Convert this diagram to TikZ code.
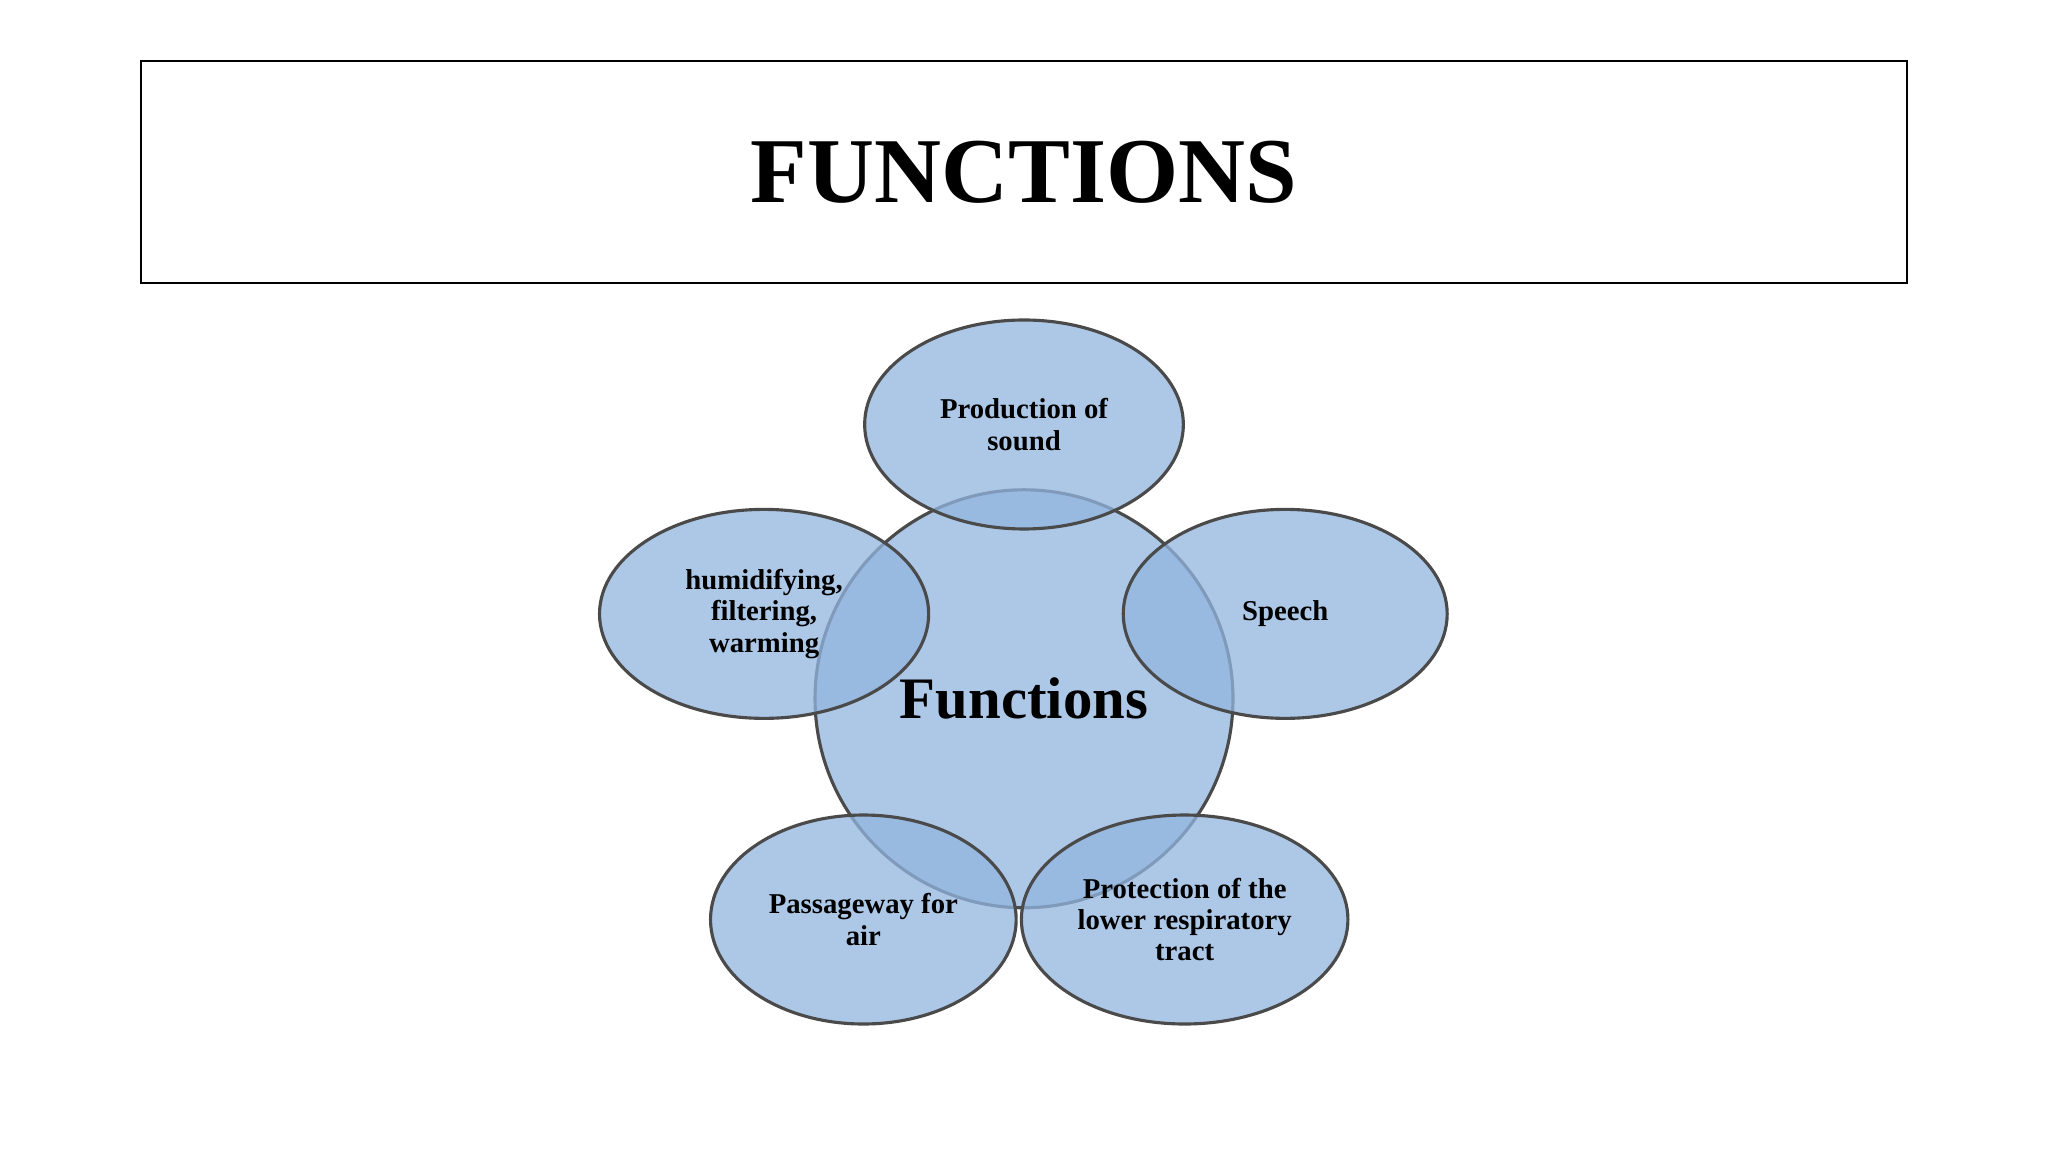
\documentclass[tikz,border=0pt]{standalone}
\usepackage{fontspec}
\setmainfont{Liberation Serif}
\usetikzlibrary{shapes.geometric}
\definecolor{bub}{HTML}{92B6E0}
\definecolor{edge}{HTML}{4A4A4A}
\tikzset{
  bubble/.style={ellipse,draw=edge,line width=1.2pt,fill=bub,fill opacity=0.75,inner sep=0pt},
  lbl/.style={align=center,font=\bfseries\fontsize{11}{12}\selectfont,text=black}
}
\begin{document}
\begin{tikzpicture}[x=0.5pt,y=-0.5pt]
\useasboundingbox (0,0) rectangle (1568,882);
\fill[white] (0,0) rectangle (1568,882);
\node[draw=black,line width=0.8pt,minimum width=676pt,minimum height=85pt,inner sep=0pt] (title) at (784,132) {};
\node[font=\bfseries\fontsize{35.5}{40}\selectfont] (tt) at (784,132) {FUNCTIONS};
\node[bubble,minimum width=160pt,minimum height=160pt] (c) at (784,535) {};
\node[bubble,minimum width=122pt,minimum height=80pt] (t) at (784,325) {};
\node[bubble,minimum width=126pt,minimum height=80pt] (l) at (585,470) {};
\node[bubble,minimum width=124pt,minimum height=80pt] (r) at (984,470) {};
\node[bubble,minimum width=117pt,minimum height=80pt] (bl) at (661,704) {};
\node[bubble,minimum width=125pt,minimum height=80pt] (br) at (907,704) {};
\node[font=\bfseries\fontsize{22.5}{24}\selectfont] (ct) at (784,535) {Functions};
\node[lbl] (tl) at (784,325) {Production of\\sound};
\node[lbl] (ll) at (585,470) {humidifying,\\filtering,\\warming};
\node[lbl] (rl) at (984,470) {Speech};
\node[lbl] (bll) at (661,704) {Passageway for\\air};
\node[lbl] (brl) at (907,704) {Protection of the\\lower respiratory\\tract};
\end{tikzpicture}
\end{document}
